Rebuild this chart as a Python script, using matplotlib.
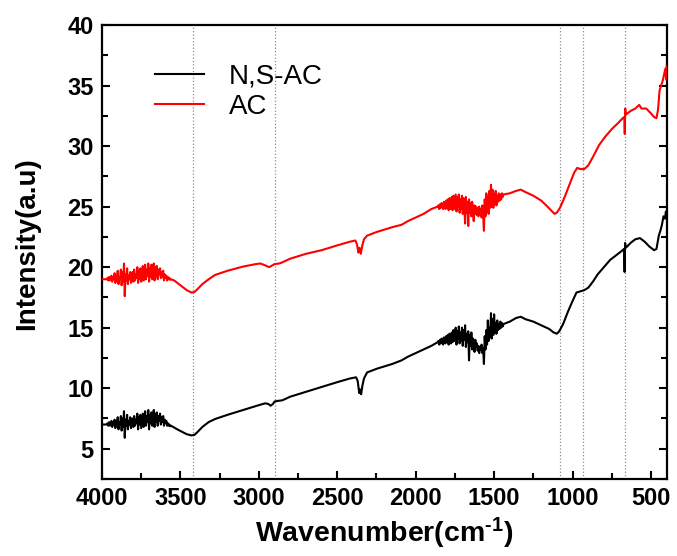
import matplotlib
matplotlib.use("Agg")
import matplotlib.pyplot as plt
from matplotlib.ticker import MultipleLocator

plt.rcParams['font.family'] = ['Liberation Sans', 'DejaVu Sans']
plt.rcParams['mathtext.fontset'] = 'custom'
plt.rcParams['mathtext.rm'] = 'Liberation Sans'
plt.rcParams['mathtext.bf'] = 'Liberation Sans:bold'
plt.rcParams['mathtext.default'] = 'regular'

# ---------------- data ----------------
# N,S-AC spectrum
ns_wn = [4000,
         3970, 3965, 3960, 3955, 3950, 3945, 3940, 3935, 3930, 3925,
         3920, 3915, 3910, 3905, 3900, 3895, 3890, 3885, 3880, 3875,
         3870, 3865, 3860, 3855, 3850, 3845, 3840, 3835, 3830, 3825,
         3820, 3815, 3810, 3805, 3800, 3795, 3790, 3785, 3780, 3775,
         3770, 3765, 3760, 3755, 3750, 3745, 3740, 3735, 3730, 3725,
         3720, 3715, 3710, 3705, 3700, 3695, 3690, 3685, 3680, 3675,
         3670, 3665, 3660, 3655, 3650, 3645, 3640, 3635, 3630, 3625,
         3620, 3615, 3610, 3605, 3600, 3595, 3590, 3585, 3580, 3575,
         3570, 3565, 3560,
         3540, 3520, 3490, 3460, 3430, 3410, 3390, 3360, 3320, 3280, 3200, 3100, 3000, 2960, 2940, 2925,
         2910, 2900, 2880, 2850, 2800, 2700, 2600, 2500, 2420, 2380, 2370, 2360, 2355, 2348, 2340, 2330,
         2310, 2250, 2150, 2090, 2050, 2000, 1950, 1900,
         1860, 1855, 1850, 1845, 1840, 1835, 1830, 1825, 1820, 1815,
         1810, 1805, 1800, 1795, 1790, 1785, 1780, 1775, 1770, 1765,
         1760, 1755, 1750, 1745, 1740, 1735, 1730, 1725, 1720, 1715,
         1710, 1705, 1700, 1695, 1690, 1685, 1680, 1675, 1670, 1665,
         1660, 1655, 1650, 1645, 1640, 1635, 1630, 1625, 1620, 1615,
         1610, 1605, 1600, 1595, 1590, 1585, 1580, 1575, 1570, 1565,
         1560, 1555, 1550, 1545, 1540, 1535, 1530, 1525, 1520, 1515,
         1510, 1505, 1500, 1495, 1490, 1485, 1480, 1475, 1470, 1465,
         1460, 1455, 1450, 1445, 1440,
         1400, 1360, 1330, 1300, 1250, 1200, 1150, 1120, 1100, 1085, 1060, 1030, 1000, 975, 950, 925,
         900, 870, 840, 800, 760, 720, 690, 672, 668, 665, 660, 630, 600, 570, 540, 510, 480, 465, 450,
         440, 430, 420, 410, 405, 400]
ns_val = [7.0,
          7.0, 7.1, 6.9, 7.2, 6.9, 7.1, 7.3, 6.8, 7.2, 7.0,
          7.4, 6.7, 7.3, 6.9, 7.6, 6.6, 7.2, 7.0, 7.7, 6.5,
          7.5, 6.8, 8.1, 5.9, 7.4, 6.9, 7.8, 6.6, 7.3, 7.0,
          7.6, 6.7, 7.2, 7.5, 6.8, 7.7, 6.9, 7.4, 7.1, 7.9,
          6.6, 7.6, 7.0, 7.8, 6.7, 7.3, 7.9, 6.8, 7.5, 8.1,
          6.9, 7.7, 7.2, 8.2, 6.6, 7.8, 7.1, 8.0, 6.9, 7.6,
          8.2, 6.8, 7.9, 7.2, 8.0, 6.9, 7.7, 7.3, 7.9, 7.0,
          7.6, 7.2, 7.7, 6.9, 7.4, 7.1, 7.3, 6.9, 7.1, 6.9,
          7.0, 6.85, 6.9,
          6.75, 6.6, 6.4, 6.2, 6.1, 6.15, 6.4, 6.8, 7.2, 7.45, 7.8, 8.2, 8.6, 8.75, 8.7, 8.55,
          8.7, 8.9, 8.95, 9.0, 9.3, 9.7, 10.1, 10.5, 10.8, 10.9, 10.6, 9.6, 9.9, 9.5, 10.2, 10.8,
          11.3, 11.6, 12.0, 12.3, 12.6, 12.9, 13.2, 13.5,
          13.8, 13.9, 13.6, 14.0, 13.7, 14.1, 13.8, 13.6, 14.2, 13.9,
          13.7, 14.3, 13.8, 14.4, 13.6, 14.5, 14.0, 13.7, 14.6, 13.8,
          14.8, 13.9, 14.3, 15.0, 13.6, 14.7, 14.1, 15.1, 13.7, 14.6,
          13.9, 15.0, 13.5, 14.8, 14.0, 15.2, 13.4, 14.5, 13.8, 14.7,
          12.3, 14.4, 13.5, 14.6, 13.2, 14.1, 13.6, 13.0, 14.0, 13.4,
          13.7, 13.1, 13.5, 12.9, 13.4, 13.2, 13.6, 12.9, 13.3, 12.0,
          14.3, 13.2, 14.8, 13.6, 15.6, 13.9, 15.0, 14.2, 16.2, 14.1,
          15.7, 14.4, 16.1, 14.6, 15.4, 14.5, 15.6, 14.8, 15.3, 14.9,
          15.5, 15.0, 15.4, 15.1, 15.3,
          15.5, 15.8, 15.9, 15.7, 15.5, 15.2, 14.9, 14.6, 14.5, 14.7, 15.3, 16.3, 17.2, 17.9, 18.0, 18.1,
          18.3, 18.8, 19.4, 20.0, 20.6, 21.0, 21.3, 21.5, 19.6, 22.0, 21.6, 22.0, 22.3, 22.4, 22.1, 21.7, 21.4, 21.5, 22.6,
          23.0, 23.5, 24.2, 24.0, 24.6, 24.4]

# AC spectrum
ac_wn = [4000,
         3970, 3965, 3960, 3955, 3950, 3945, 3940, 3935, 3930, 3925,
         3920, 3915, 3910, 3905, 3900, 3895, 3890, 3885, 3880, 3875,
         3870, 3865, 3860, 3855, 3850, 3845, 3840, 3835, 3830, 3825,
         3820, 3815, 3810, 3805, 3800, 3795, 3790, 3785, 3780, 3775,
         3770, 3765, 3760, 3755, 3750, 3745, 3740, 3735, 3730, 3725,
         3720, 3715, 3710, 3705, 3700, 3695, 3690, 3685, 3680, 3675,
         3670, 3665, 3660, 3655, 3650, 3645, 3640, 3635, 3630, 3625,
         3620, 3615, 3610, 3605, 3600, 3595, 3590, 3585, 3580, 3575,
         3570, 3565, 3560,
         3540, 3520, 3490, 3460, 3430, 3410, 3390, 3360, 3320, 3280, 3200, 3100, 3020, 2990, 2960, 2935,
         2920, 2900, 2870, 2850, 2800, 2700, 2600, 2500, 2420, 2385, 2375, 2365, 2358, 2350, 2340, 2330,
         2310, 2250, 2150, 2090, 2050, 2000, 1950, 1900,
         1860, 1855, 1850, 1845, 1840, 1835, 1830, 1825, 1820, 1815,
         1810, 1805, 1800, 1795, 1790, 1785, 1780, 1775, 1770, 1765,
         1760, 1755, 1750, 1745, 1740, 1735, 1730, 1725, 1720, 1715,
         1710, 1705, 1700, 1695, 1690, 1685, 1680, 1675, 1670, 1665,
         1660, 1655, 1650, 1645, 1640, 1635, 1630, 1625, 1620, 1615,
         1610, 1605, 1600, 1595, 1590, 1585, 1580, 1575, 1570, 1565,
         1560, 1555, 1550, 1545, 1540, 1535, 1530, 1525, 1520, 1515,
         1510, 1505, 1500, 1495, 1490, 1485, 1480, 1475, 1470, 1465,
         1460, 1455, 1450, 1445, 1440,
         1400, 1360, 1330, 1300, 1250, 1200, 1160, 1130, 1115, 1100, 1080, 1050, 1020, 990, 970, 950,
         925, 900, 870, 830, 790, 750, 710, 680, 670, 667, 664, 660, 630, 600, 575, 560, 530, 500, 480,
         465, 455, 445, 435, 425, 415, 408, 403, 400]
ac_val = [19.0,
          19.0, 19.1, 18.9, 19.2, 18.9, 19.1, 19.3, 18.8, 19.2, 19.0,
          19.5, 18.7, 19.3, 18.9, 19.7, 18.6, 19.2, 19.0, 19.8, 18.5,
          19.6, 18.8, 20.3, 17.6, 19.4, 18.9, 19.9, 18.6, 19.3, 19.0,
          19.6, 18.7, 19.2, 19.6, 18.8, 19.8, 18.9, 19.4, 19.1, 20.0,
          18.7, 19.7, 19.0, 19.9, 18.8, 19.4, 20.1, 18.9, 19.6, 20.2,
          19.0, 19.8, 19.3, 20.3, 18.8, 19.9, 19.2, 20.2, 19.0, 19.7,
          20.3, 18.9, 20.0, 19.3, 20.1, 19.0, 19.8, 19.4, 19.9, 19.1,
          19.6, 19.2, 19.7, 18.9, 19.4, 19.1, 19.3, 18.9, 19.2, 19.0,
          19.1, 18.95, 19.0,
          18.9, 18.7, 18.4, 18.1, 17.9, 17.95, 18.2, 18.6, 19.0, 19.35, 19.7, 20.05, 20.25, 20.3, 20.15, 20.0,
          20.1, 20.25, 20.3, 20.4, 20.7, 21.1, 21.4, 21.8, 22.1, 22.2, 21.9, 21.2, 21.6, 21.1, 21.8, 22.3,
          22.6, 22.9, 23.3, 23.5, 23.8, 24.1, 24.4, 24.8,
          25.0, 25.1, 24.8, 25.2, 24.9, 25.3, 25.0, 24.8, 25.4, 25.0,
          24.8, 25.5, 24.9, 25.6, 24.7, 25.7, 25.1, 24.8, 25.8, 24.7,
          25.9, 24.8, 25.4, 26.0, 24.6, 25.8, 25.0, 26.0, 24.5, 25.6,
          24.8, 25.9, 24.4, 25.7, 24.9, 23.6, 25.8, 24.5, 25.4, 23.4,
          25.6, 24.5, 25.3, 24.2, 25.4, 24.7, 23.8, 25.1, 24.4, 25.0,
          24.3, 24.9, 24.2, 25.0, 24.4, 24.8, 24.1, 25.1, 24.3, 23.0,
          25.6, 24.2, 26.1, 24.6, 25.9, 24.4, 26.3, 24.9, 26.8, 25.0,
          26.4, 24.9, 26.0, 25.2, 26.3, 25.1, 25.9, 25.4, 26.1, 25.5,
          26.0, 25.6, 26.1, 25.8, 26.0,
          26.1, 26.3, 26.4, 26.2, 25.9, 25.5, 25.0, 24.6, 24.4, 24.5, 24.9, 25.8, 26.8, 27.8, 28.2, 28.1,
          28.1, 28.4, 29.1, 30.1, 30.8, 31.4, 31.9, 32.3, 32.4, 31.0, 33.1, 32.6, 32.9, 33.1, 33.4, 33.1, 33.1, 32.7, 32.4,
          32.3, 33.0, 34.6, 35.0, 35.4, 36.0, 36.4, 35.5, 36.6]

band_positions = [3422, 2894, 1083, 934, 665]
series_labels = ['N,S-AC', 'AC']

# ---------------- figure ----------------
fig = plt.figure(figsize=(6.77, 5.56), dpi=100)
ax = fig.add_axes([0.1507, 0.1385, 0.834, 0.8165])

for b in band_positions:
    ax.axvline(b, color='#8c8c8c', lw=0.9, ls=':', zorder=1)

ax.plot(ns_wn, ns_val, color='black', lw=1.5, label=series_labels[0], zorder=3)
ax.plot(ac_wn, ac_val, color='#ff0000', lw=1.5, label=series_labels[1], zorder=3)

ax.set_xlim(4000, 400)
ax.set_ylim(2.5, 40)
ax.xaxis.set_major_locator(MultipleLocator(500))
ax.xaxis.set_minor_locator(MultipleLocator(250))
ax.yaxis.set_major_locator(MultipleLocator(5))
ax.yaxis.set_minor_locator(MultipleLocator(2.5))

ax.tick_params(which='both', direction='in', top=False, right=True, width=1.5)
ax.tick_params(which='major', length=6)
ax.tick_params(which='minor', length=4)
ax.tick_params(axis='both', labelsize=17, pad=6)
for lab in ax.get_xticklabels() + ax.get_yticklabels():
    lab.set_fontweight('bold')
for s in ax.spines.values():
    s.set_linewidth(1.6)

ax.set_xlabel('Wavenumber(cm$^{\\mathbf{\u2010}\\mathbf{1}}$)', fontsize=20.5, fontweight='bold', labelpad=4)
ax.set_ylabel('Intensity(a.u)', fontsize=20, fontweight='bold')
ax.yaxis.set_label_coords(-0.11, 0.518)

leg = ax.legend(loc='upper left', bbox_to_anchor=(0.094, 0.915), frameon=False, borderpad=0,
                borderaxespad=0, fontsize=20, handlelength=1.75, handletextpad=0.9, labelspacing=0.15)

fig.savefig('out.png', dpi=100)
